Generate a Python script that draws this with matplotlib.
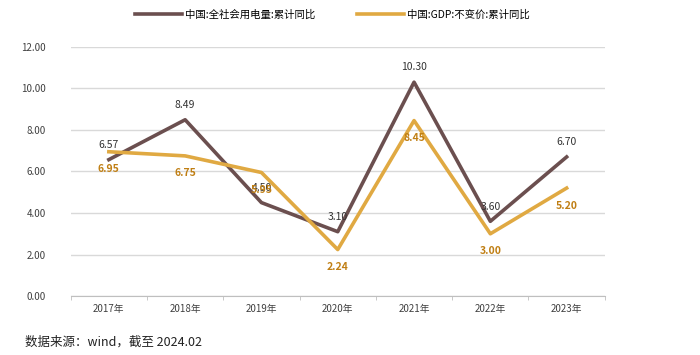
import matplotlib.pyplot as plt
import numpy as np

plt.rcParams['font.family'] = ['Noto Sans CJK SC', 'DejaVu Sans']

years = ["2017年", "2018年", "2019年", "2020年", "2021年", "2022年", "2023年"]
power = [6.57, 8.49, 4.50, 3.10, 10.30, 3.60, 6.70]
gdp = [6.95, 6.75, 5.95, 2.24, 8.45, 3.00, 5.20]
power_name = "中国:全社会用电量:累计同比"
gdp_name = "中国:GDP:不变价:累计同比"

BROWN = "#6b4f4f"
GOLD = "#e0a942"

fig = plt.figure(figsize=(7, 3.55), dpi=100)
ax = fig.add_axes([0.101, 0.166, 0.763, 0.702])

x = np.arange(len(years))
ax.plot(x, power, color=BROWN, lw=2.6, label=power_name, zorder=3)
ax.plot(x, gdp, color=GOLD, lw=2.6, label=gdp_name, zorder=3)

for xi, v in zip(x, power):
    ax.annotate(f"{v:.2f}", (xi, v), xytext=(0, 7), textcoords="offset points",
                ha="center", va="bottom", fontsize=7.5, color="#333333")
for xi, v in zip(x, gdp):
    ax.annotate(f"{v:.2f}", (xi, v), xytext=(0, -9), textcoords="offset points",
                ha="center", va="top", fontsize=7.5, color="#c07f14", fontweight="bold")

ax.set_xlim(-0.5, len(years) - 0.5)
ax.set_ylim(0, 12)
ax.set_yticks(np.arange(0, 13, 2))
ax.set_yticklabels([f"{t:.2f}" for t in np.arange(0, 13, 2)], fontsize=7, color="#404040")
ax.set_xticks(x)
ax.set_xticklabels(years, fontsize=7, color="#404040")
ax.set_xticks(np.arange(-0.5, len(years), 1), minor=True)
ax.tick_params(axis="x", which="major", length=0, pad=6)
ax.tick_params(axis="x", which="minor", length=3, color="#bfbfbf")
ax.tick_params(axis="y", length=0, pad=18)
ax.grid(axis="y", color="#d9d9d9", lw=1)
ax.set_axisbelow(True)
for s in ["top", "right", "left"]:
    ax.spines[s].set_visible(False)
ax.spines["bottom"].set_color("#bfbfbf")

fig.legend(loc="upper center", bbox_to_anchor=(0.475, 1.0), ncol=2, frameon=False,
           fontsize=7.5, handlelength=4.5, columnspacing=4, handletextpad=0.3)

fig.text(0.036, 0.025, "数据来源：wind，截至 2024.02", fontsize=9, color="#222222")

fig.savefig("out.png", dpi=100)
